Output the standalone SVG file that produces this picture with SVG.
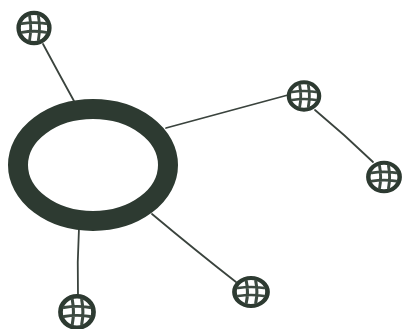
<svg xmlns="http://www.w3.org/2000/svg" width="406" height="329" viewBox="0 0 406 329">
<style>
.bg{fill:#ffffff}
.ring{fill:none;stroke:#2d3a31;stroke-width:20}
.edge{fill:none;stroke:#3a433d;stroke-width:1.8;stroke-linecap:round}
.node{fill:#ffffff;stroke:#2d3a31;stroke-width:4}
.hatch{fill:none;stroke:#3d4a41;stroke-width:2.6;stroke-linecap:round}
</style>
<defs>
<g id="ball">
<circle class="node" cx="0" cy="0" r="14"/>
<path class="hatch" d="M-11,-4 Q0,-6 11,-4 M-11,4 Q0,2 11,4 M-4,-11 Q-2,0 -4,11 M4,-11 Q6,0 4,11"/>
</g>
</defs>
<rect class="bg" x="0" y="0" width="406" height="329"/>
<g id="connectors">
<path class="edge" d="M43,44 Q58,72 74,101"/>
<path class="edge" d="M166,128 Q225,112 288,95"/>
<path class="edge" d="M315,110 Q345,135 373,162"/>
<path class="edge" d="M152,214 Q195,250 236,282"/>
<path class="edge" d="M79,228 Q77,262 78,297"/>
</g>
<g id="hub">
<ellipse class="ring" cx="93" cy="165" rx="75" ry="56"/>
</g>
<g id="n1"><use href="#ball" transform="translate(34,28) scale(1.1,1.08)"/></g>
<g id="n2"><use href="#ball" transform="translate(304,96) scale(1.08,0.98)"/></g>
<g id="n3"><use href="#ball" transform="translate(384,177) scale(1.12,1.02)"/></g>
<g id="n4"><use href="#ball" transform="translate(251,292) scale(1.18,1.0)"/></g>
<g id="n5"><use href="#ball" transform="translate(77,312) scale(1.18,1.12)"/></g>
</svg>
